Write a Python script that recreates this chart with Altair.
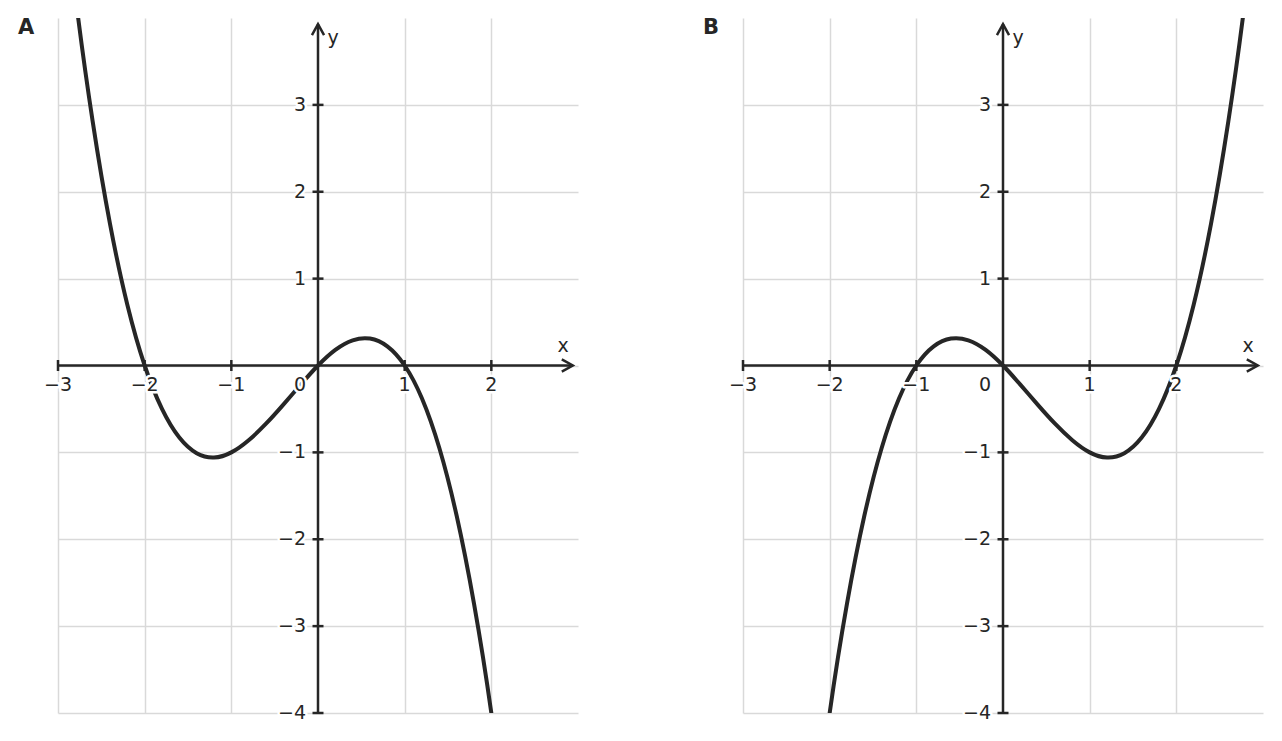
import altair as alt
import pandas as pd

# ---- data ----
A_x = [-3.0, -2.8, -2.6, -2.4, -2.2, -2.0, -1.8, -1.6, -1.4, -1.2, -1.0, -0.8, -0.6,
       -0.4, -0.2, 0.0, 0.2, 0.4, 0.6, 0.8, 1.0, 1.2, 1.4, 1.6, 1.8, 2.0, 2.2]
A_y = [6.0, 4.26, 2.81, 1.63, 0.70, 0.0, -0.50, -0.83, -1.01, -1.06, -1.0, -0.86, -0.67,
       -0.45, -0.22, 0.0, 0.18, 0.29, 0.31, 0.22, 0.0, -0.38, -0.95, -1.73, -2.74, -4.0, -5.54]
B_x = [-2.2, -2.0, -1.8, -1.6, -1.4, -1.2, -1.0, -0.8, -0.6, -0.4, -0.2, 0.0, 0.2, 0.4,
       0.6, 0.8, 1.0, 1.2, 1.4, 1.6, 1.8, 2.0, 2.2, 2.4, 2.6, 2.8, 3.0]
B_y = [-5.54, -4.0, -2.74, -1.73, -0.95, -0.38, 0.0, 0.22, 0.31, 0.29, 0.18, 0.0, -0.22, -0.45,
       -0.67, -0.86, -1.0, -1.06, -1.01, -0.83, -0.50, 0.0, 0.70, 1.63, 2.81, 4.26, 6.0]

x_ticks = [-3, -2, -1, 1, 2]
x_tick_labels = ["−3", "−2", "−1", "1", "2"]
y_ticks = [-4, -3, -2, -1, 1, 2, 3]
y_tick_labels = ["−4", "−3", "−2", "−1", "1", "2", "3"]
x_grid = [-3, -2, -1, 1, 2]
y_grid = [-4, -3, -2, -1, 0, 1, 2, 3]

DARK = "#262626"
GRID = "#d9d9d9"
FONT = "DejaVu Sans"
FS = 19

xscale = alt.Scale(domain=[-3, 3], nice=False, zero=False)
yscale = alt.Scale(domain=[-4, 4], nice=False, zero=False)
xaxis = alt.Axis(values=x_grid, grid=True, labels=False, ticks=False, domain=False,
                 title=None, gridColor=GRID, gridWidth=1.5)
yaxis = alt.Axis(values=y_grid, grid=True, labels=False, ticks=False, domain=False,
                 title=None, gridColor=GRID, gridWidth=1.5)


def X(f="x"):
    return alt.X(f"{f}:Q", scale=xscale, axis=xaxis)


def Y(f="y"):
    return alt.Y(f"{f}:Q", scale=yscale, axis=yaxis)


def panel(xs, ys, letter):
    curve_df = pd.DataFrame({"x": xs, "y": ys})
    xline_df = pd.DataFrame({"x": [-3.0], "x2": [2.94], "y": [0.0]})
    yline_df = pd.DataFrame({"x": [0.0], "y": [-4.0], "y2": [3.93]})
    xt_df = pd.DataFrame({"x": x_ticks, "y": [0.0] * len(x_ticks), "t": x_tick_labels})
    yt_df = pd.DataFrame({"x": [0.0] * len(y_ticks), "y": y_ticks, "t": y_tick_labels})
    zero_df = pd.DataFrame({"x": [0.0], "y": [0.0], "t": ["0"]})
    xarrow_df = pd.DataFrame({"x": [2.94], "y": [0.0]})
    yarrow_df = pd.DataFrame({"x": [0.0], "y": [3.93]})
    xlab_df = pd.DataFrame({"x": [3.0], "y": [0.0], "t": ["x"]})
    ylab_df = pd.DataFrame({"x": [0.0], "y": [4.0], "t": ["y"]})
    letter_df = pd.DataFrame({"t": [letter]})

    xline = alt.Chart(xline_df).mark_rule(color=DARK, strokeWidth=2.5).encode(
        x=X(), x2="x2:Q", y=Y())
    yline = alt.Chart(yline_df).mark_rule(color=DARK, strokeWidth=2.5).encode(
        x=X(), y=Y(), y2="y2:Q")
    xticks = alt.Chart(xt_df).mark_rule(color=DARK, strokeWidth=2.5, yOffset=-5.5, y2Offset=5.5).encode(
        x=X(), y=Y(), y2=alt.Y2("y:Q"))
    yticks = alt.Chart(yt_df).mark_rule(color=DARK, strokeWidth=2.5, xOffset=-5.5, x2Offset=5.5).encode(
        x=X(), x2=alt.X2("x:Q"), y=Y())
    xarrow = alt.Chart(xarrow_df).mark_point(
        shape="M-1,-0.55L0,0L-1,0.55", size=484, filled=False, color=DARK,
        strokeWidth=2.5, opacity=1).encode(x=X(), y=Y())
    yarrow = alt.Chart(yarrow_df).mark_point(
        shape="M-0.55,1L0,0L0.55,1", size=484, filled=False, color=DARK,
        strokeWidth=2.5, opacity=1).encode(x=X(), y=Y())
    curve = alt.Chart(curve_df).mark_line(
        clip=True, color=DARK, strokeWidth=4, interpolate="natural").encode(x=X(), y=Y())

    def labels(df, **kw):
        halo = alt.Chart(df).mark_text(font=FONT, fontSize=FS, color="white", stroke="white",
                                       strokeWidth=5, strokeJoin="round", **kw).encode(
            x=X(), y=Y(), text="t:N")
        txt = alt.Chart(df).mark_text(font=FONT, fontSize=FS, color=DARK, **kw).encode(
            x=X(), y=Y(), text="t:N")
        return [halo, txt]

    xl = labels(xt_df, dy=19, align="center", baseline="middle")
    yl = labels(yt_df, dx=-12, align="right", baseline="middle")
    zl = labels(zero_df, dx=-18, dy=19, align="center", baseline="middle")

    xlab = alt.Chart(xlab_df).mark_text(font=FONT, fontSize=FS, color=DARK, dx=-15, dy=-20,
                                        align="center", baseline="middle").encode(
        x=X(), y=Y(), text="t:N")
    ylab = alt.Chart(ylab_df).mark_text(font=FONT, fontSize=FS, color=DARK, dx=15, dy=20,
                                        align="center", baseline="middle").encode(
        x=X(), y=Y(), text="t:N")
    let = alt.Chart(letter_df).mark_text(font=FONT, fontSize=21, fontWeight="bold", color=DARK,
                                         align="left", baseline="middle").encode(
        x=alt.value(-40), y=alt.value(10), text="t:N")

    return alt.layer(xline, yline, xticks, yticks, xarrow, yarrow, curve,
                     *xl, *yl, *zl, xlab, ylab, let).properties(width=520, height=695)


chart = alt.hconcat(panel(A_x, A_y, "A"), panel(B_x, B_y, "B"), spacing=165, bounds="flush") \
    .properties(padding={"left": 10, "top": 9, "right": 5, "bottom": 5}) \
    .configure_view(stroke=None)

chart.save("out.html", embed_options={"renderer": "svg", "actions": False})
